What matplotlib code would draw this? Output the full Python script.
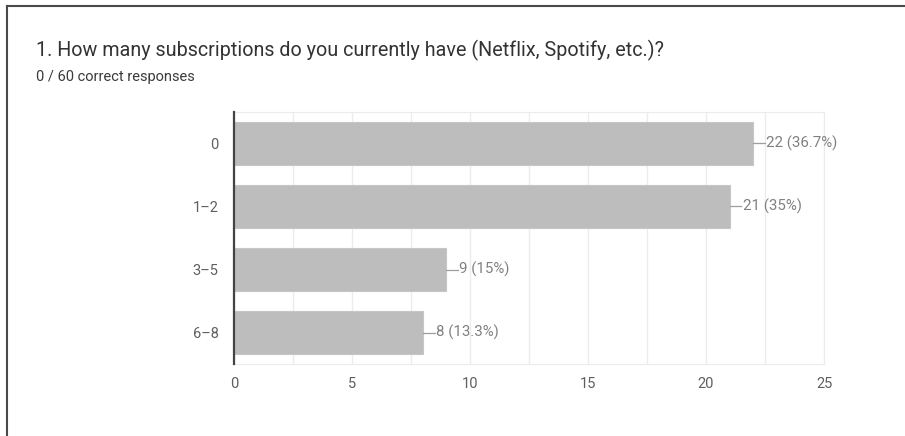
import matplotlib.pyplot as plt
from matplotlib.lines import Line2D

categories = ['0', '1–2', '3–5', '6–8']
counts = [22, 21, 9, 8]
percents = ['36.7%', '35%', '15%', '13.3%']
x_ticks = [0, 5, 10, 15, 20, 25]

title = '1. How many subscriptions do you currently have (Netflix, Spotify, etc.)?'
subtitle = '0 / 60 correct responses'

plt.rcParams['font.family'] = ['Roboto', 'DejaVu Sans']

fig = plt.figure(figsize=(9.05, 4.36), dpi=100)
ax = fig.add_axes([234 / 905, 1 - 364 / 436, 590 / 905, 252 / 436])

pos = list(range(len(categories)))
ax.barh(pos, counts, height=0.67, color='#bdbdbd', edgecolor='#c6c6c6',
        linewidth=0.8, zorder=2)

for y, c, p in zip(pos, counts, percents):
    ax.plot([c, c + 0.5], [y, y], color='#9e9e9e', lw=0.9, zorder=3)
    ax.text(c + 0.55, y, f'{c} ({p})', va='center', ha='left',
            fontsize=10.8, color='#808080')

ax.set_xlim(0, 25)
ax.set_ylim(3.5, -0.5)
ax.set_xticks(x_ticks)
ax.set_xticks([2.5 + 5 * i for i in range(5)], minor=True)
ax.set_yticks(pos)
ax.set_yticklabels(categories)
ax.tick_params(axis='both', length=0, labelsize=10.5, labelcolor='#5f5f5f')
ax.tick_params(axis='y', pad=11)
ax.tick_params(axis='x', pad=9)
ax.tick_params(which='minor', length=0)
ax.grid(axis='x', which='both', color='#ececec', lw=1, zorder=0)

for side in ['top', 'right', 'bottom']:
    ax.spines[side].set_color('#ececec')
ax.spines['left'].set_color('#444444')
ax.spines['left'].set_linewidth(1.6)
ax.spines['left'].set_zorder(4)

fig.text(36 / 905, 1 - 50 / 436, title, fontsize=14.2, color='#333333',
         va='center', ha='left')
fig.text(36 / 905, 1 - 77 / 436, subtitle, fontsize=10.5, color='#3a3a3a',
         va='center', ha='left')

# thin frame on the top and left edges
fig.add_artist(Line2D([6.5 / 905, 1], [1 - 6.5 / 436, 1 - 6.5 / 436],
                      color='#4a4a4a', lw=1.5, transform=fig.transFigure))
fig.add_artist(Line2D([6.5 / 905, 6.5 / 905], [0, 1 - 6.5 / 436],
                      color='#4a4a4a', lw=1.5, transform=fig.transFigure))

fig.savefig('out.png', dpi=100, facecolor='white')
